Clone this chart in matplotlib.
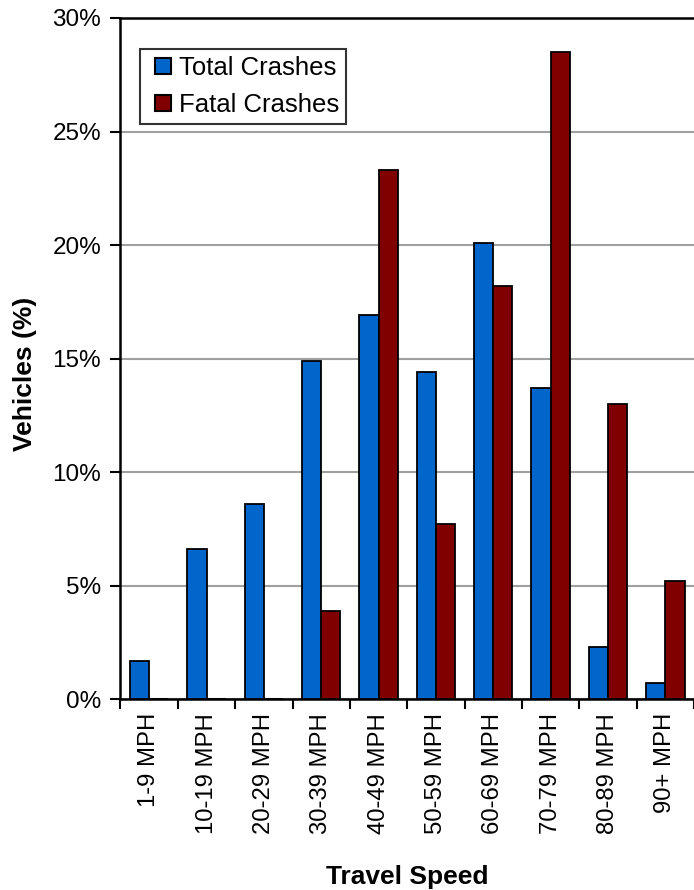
import numpy as np
import matplotlib
matplotlib.use('Agg')
from matplotlib import pyplot as plt
from matplotlib.lines import Line2D
from matplotlib.ticker import FuncFormatter

plt.rcParams['font.family'] = ['Liberation Sans', 'DejaVu Sans']

speeds = ['1-9 MPH', '10-19 MPH', '20-29 MPH', '30-39 MPH', '40-49 MPH',
          '50-59 MPH', '60-69 MPH', '70-79 MPH', '80-89 MPH', '90+ MPH']
total = [1.7, 6.6, 8.6, 14.9, 16.9, 14.4, 20.1, 13.7, 2.3, 0.7]
fatal = [0.0, 0.0, 0.0, 3.9, 23.3, 7.7, 18.2, 28.5, 13.0, 5.2]
names = ['Total Crashes', 'Fatal Crashes']
colors = ['#0066CC', '#800000']

fig = plt.figure(figsize=(6.94, 8.90), dpi=100)
ax = fig.add_axes([0.1736, 0.2143, 0.8264, 0.7655])

x = np.arange(len(speeds))
w = 0.335
ax.bar(x - w/2, total, w, color=colors[0], edgecolor='black', linewidth=1.3, zorder=3)
ax.bar(x + w/2, fatal, w, color=colors[1], edgecolor='black', linewidth=1.3, zorder=3)

ax.set_xlim(-0.5, len(speeds) - 0.5)
ax.set_ylim(0, 30)
ax.set_yticks(np.arange(0, 31, 5))
ax.yaxis.set_major_formatter(FuncFormatter(lambda v, p: '%d%%' % v))
ax.yaxis.grid(True, color='#A0A0A0', linewidth=1.5, zorder=0)

ax.set_xticks(x)
ax.set_xticklabels(speeds, rotation=90)
ax.set_xticks(np.arange(-0.5, len(speeds)), minor=True)
ax.tick_params(axis='x', which='major', length=0, pad=10, labelsize=17.2)
ax.tick_params(axis='x', which='minor', length=7, width=1.5, direction='out')
ax.tick_params(axis='y', length=7, width=1.5, direction='out', pad=7, labelsize=17.5)

for s in ['left', 'top', 'bottom']:
    ax.spines[s].set_linewidth(1.8)
ax.spines['right'].set_visible(False)

ax.set_ylabel('Vehicles (%)', fontsize=19, fontweight='bold')
ax.yaxis.set_label_coords(-0.145, 0.477)
ax.set_xlabel('Travel Speed', fontsize=19, fontweight='bold', labelpad=22)

handles = [Line2D([], [], marker='s', linestyle='none', markersize=11,
                  markerfacecolor=c, markeredgecolor='black', markeredgewidth=1.5)
           for c in colors]
leg = ax.legend(handles, names, loc='upper left', bbox_to_anchor=(0.034, 0.955),
                fontsize=18.5, frameon=True, fancybox=False, handlelength=1.2,
                handletextpad=0.0, borderpad=0.3, labelspacing=0.48,
                borderaxespad=0)
leg.get_frame().set_edgecolor('black')
leg.get_frame().set_linewidth(1.5)

plt.savefig('out.png', dpi=100)
